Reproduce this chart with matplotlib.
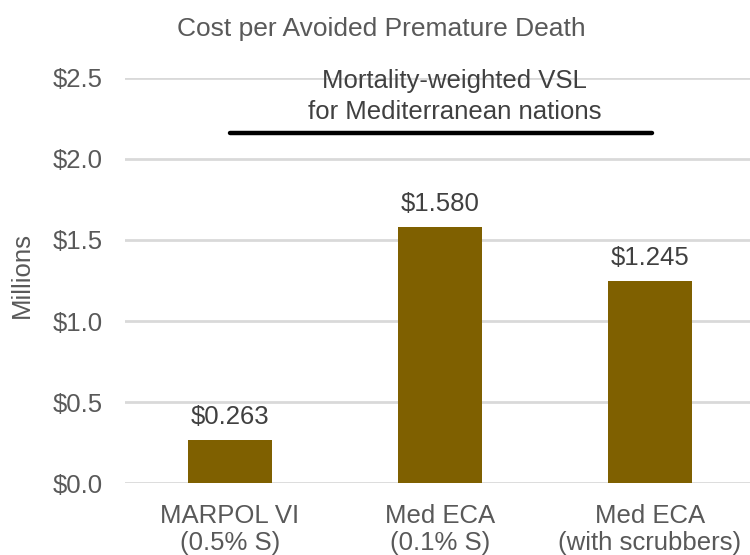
import matplotlib.pyplot as plt

plt.rcParams["font.family"] = ["Liberation Sans", "DejaVu Sans"]

categories = ["MARPOL VI\n(0.5% S)", "Med ECA\n(0.1% S)", "Med ECA\n(with scrubbers)"]
cost_musd = [0.263, 1.580, 1.245]
value_labels = ["$0.263", "$1.580", "$1.245"]
yticks = [0.0, 0.5, 1.0, 1.5, 2.0, 2.5]

text_color = "#595959"
bar_color = "#7F6000"
grid_color = "#D9D9D9"
fs = 18.5

fig = plt.figure(figsize=(7.5, 5.55), dpi=100)
ax = fig.add_axes([0.1667, 0.1297, 0.8333, 0.7298])

x = range(len(categories))
bars = ax.bar(x, cost_musd, width=0.4, color=bar_color, zorder=3)
for b, lab in zip(bars, value_labels):
    ax.annotate(lab, (b.get_x() + b.get_width() / 2, b.get_height()),
                xytext=(0, 8), textcoords="offset points",
                ha="center", va="bottom", fontsize=fs, color="#404040")

ax.set_ylim(0, 2.5)
ax.set_xlim(-0.5, 2.476)
ax.set_yticks(yticks)
ax.set_yticklabels(["$%.1f" % v for v in yticks])
ax.set_xticks(list(x))
ax.set_xticklabels(categories, linespacing=1.18)
ax.tick_params(axis="both", length=0, labelsize=fs, colors=text_color)
ax.tick_params(axis="x", pad=15)
ax.tick_params(axis="y", pad=16)
ax.yaxis.grid(True, color=grid_color, linewidth=2, zorder=0)
ax.set_axisbelow(True)
for s in ax.spines.values():
    s.set_visible(False)
ax.set_ylabel("Millions", fontsize=fs, color=text_color)
ax.yaxis.label.set_va("center")
ax.yaxis.set_label_coords(-0.165, 0.514)

# VSL threshold marker
ax.plot([0.0, 2.01], [2.16, 2.16], color="black", linewidth=3.2,
        solid_capstyle="round", zorder=4, clip_on=False)
ax.text(1.07, 2.385, "Mortality-weighted VSL\nfor Mediterranean nations",
        ha="center", va="center", fontsize=fs, color="#404040",
        linespacing=1.35, zorder=5)

fig.text(0.508, 0.948, "Cost per Avoided Premature Death", ha="center",
         va="center", fontsize=19, color=text_color)

fig.savefig("out.png", dpi=100)
